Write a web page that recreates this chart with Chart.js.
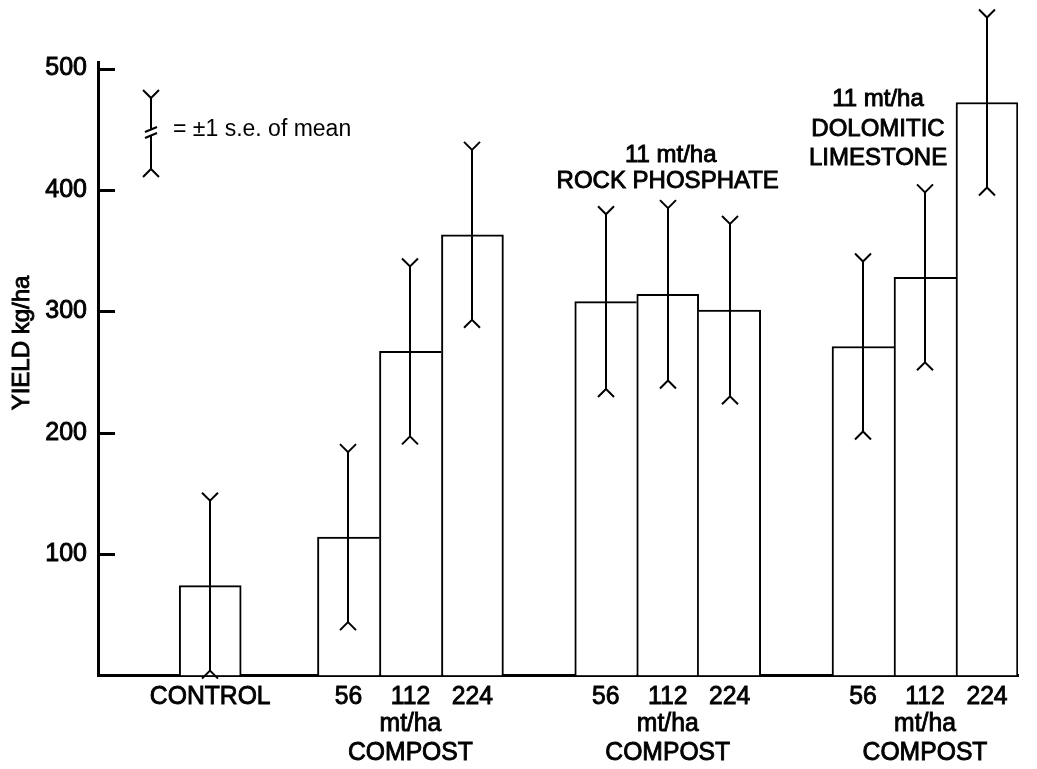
<!DOCTYPE html>
<html>
<head>
<meta charset="utf-8">
<title>Yield</title>
<script src="https://cdn.jsdelivr.net/npm/chart.js@4.4.0/dist/chart.umd.min.js"></script>
<style>
    html, body { margin: 0; padding: 0; background: #fff; }
    #wrap { width: 1037px; height: 769px; }
</style>
</head>
<body>
<div id="wrap"><canvas id="yieldChart"></canvas></div>
<script>
// values (kg/ha)
const controlYield = [74];
const compostYield = [114, 267, 363];
const rockPhosphateYield = [308, 314, 301];
const limestoneYield = [271, 328, 472];

// +-1 s.e. of mean
const controlSE = [70];
const compostSE = [70, 70, 70];
const rockPhosphateSE = [72, 71, 71];
const limestoneSE = [70, 70, 70];

const rateLabels = ['56', '112', '224'];
const yTicks = [100, 200, 300, 400, 500];

const FONT = '"Liberation Sans", Arial, Helvetica, sans-serif';

// groups in draw order, gap before each group in bar widths
const groups = [
    { yields: controlYield, se: controlSE, gap: 1.31 },
    { yields: compostYield, se: compostSE, gap: 1.23 },
    { yields: rockPhosphateYield, se: rockPhosphateSE, gap: 1.15 },
    { yields: limestoneYield, se: limestoneSE, gap: 1.15 }
];

const points = [];
const errors = [];
const edges = [];   // which bar draws a shared side: the taller one
let pos = 0;
groups.forEach(g => {
    pos += g.gap;
    g.yields.forEach((v, i) => {
        const prev = g.yields[i - 1];
        const next = g.yields[i + 1];
        points.push({ x: pos + 0.5, y: v });
        errors.push(g.se[i]);
        edges.push({
            left: prev === undefined || prev < v,
            right: next === undefined || next <= v
        });
        pos += 1;
    });
});
const xMax = pos;

// slightly heavier, narrower text, like the printed figure
function label(ctx, text, x, y, sx = 0.95) {
    ctx.save();
    ctx.translate(x, y);
    ctx.scale(sx, 1);
    ctx.strokeText(text, 0, 0);
    ctx.fillText(text, 0, 0);
    ctx.restore();
}

const errorBars = {
    id: 'errorBars',
    afterDatasetsDraw(chart) {
        const ctx = chart.ctx;
        const yScale = chart.scales.y;
        const meta = chart.getDatasetMeta(0);
        ctx.save();
        ctx.strokeStyle = '#000';
        ctx.lineWidth = 2;
        meta.data.forEach((bar, i) => {
            const x = Math.round(bar.x);
            const hi = yScale.getPixelForValue(points[i].y + errors[i]);
            const lo = yScale.getPixelForValue(points[i].y - errors[i]);
            ctx.beginPath();
            ctx.moveTo(x, hi);
            ctx.lineTo(x, lo);
            ctx.moveTo(x - 8, hi - 8);
            ctx.lineTo(x, hi);
            ctx.lineTo(x + 8, hi - 8);
            ctx.moveTo(x - 8, lo + 8);
            ctx.lineTo(x, lo);
            ctx.lineTo(x + 8, lo + 8);
            ctx.stroke();
        });
        ctx.restore();
    }
};

const decorations = {
    id: 'decorations',
    afterDraw(chart) {
        const ctx = chart.ctx;
        const area = chart.chartArea;
        const yScale = chart.scales.y;
        const meta = chart.getDatasetMeta(0);
        const cx = i => meta.data[i].x;

        ctx.save();
        ctx.strokeStyle = '#000';
        ctx.fillStyle = '#000';

        // inward tick marks
        ctx.lineWidth = 3;
        yTicks.forEach(t => {
            const y = Math.round(yScale.getPixelForValue(t)) + 0.5;
            ctx.beginPath();
            ctx.moveTo(area.left, y);
            ctx.lineTo(area.left + 17, y);
            ctx.stroke();
        });

        ctx.lineWidth = 0.9;
        ctx.textAlign = 'center';
        ctx.textBaseline = 'middle';

        // axis title
        ctx.font = '24px ' + FONT;
        ctx.save();
        ctx.translate(22, 343);
        ctx.rotate(-Math.PI / 2);
        label(ctx, 'YIELD kg/ha', 0, 0, 1);
        ctx.restore();

        // category labels
        ctx.font = '26px ' + FONT;
        label(ctx, 'CONTROL', cx(0), 697);
        for (let g = 0; g < 3; g++) {
            const first = 1 + g * 3;
            rateLabels.forEach((lab, i) => label(ctx, lab, cx(first + i), 697));
            label(ctx, 'mt/ha', cx(first + 1), 724);
            label(ctx, 'COMPOST', cx(first + 1), 753);
        }

        // group notes
        ctx.font = '24px ' + FONT;
        label(ctx, '11 mt/ha', cx(5) + 3, 155, 1);
        label(ctx, 'ROCK PHOSPHATE', cx(5), 181, 1);
        const dx = cx(7) + 15;
        label(ctx, '11 mt/ha', dx, 99, 1);
        label(ctx, 'DOLOMITIC', dx, 129, 1);
        label(ctx, 'LIMESTONE', dx, 158, 1);

        // key
        const kx = 151;
        ctx.lineWidth = 2;
        ctx.beginPath();
        ctx.moveTo(kx - 8, 90);
        ctx.lineTo(kx, 98);
        ctx.lineTo(kx + 8, 90);
        ctx.moveTo(kx, 98);
        ctx.lineTo(kx, 129);
        ctx.moveTo(kx, 136);
        ctx.lineTo(kx, 169);
        ctx.moveTo(kx - 8, 177);
        ctx.lineTo(kx, 169);
        ctx.lineTo(kx + 8, 177);
        ctx.moveTo(kx - 6, 132);
        ctx.lineTo(kx + 6, 127);
        ctx.moveTo(kx - 6, 138);
        ctx.lineTo(kx + 6, 133);
        ctx.stroke();
        ctx.textAlign = 'left';
        ctx.font = '23px ' + FONT;
        ctx.fillText('= \u00b11 s.e. of mean', 173, 130);
        ctx.restore();
    }
};

const chart = new Chart(document.getElementById('yieldChart'), {
    type: 'bar',
    data: {
        datasets: [{
            data: points,
            backgroundColor: '#fff',
            borderColor: '#000',
            borderSkipped: false,
            borderWidth: c => {
                const e = edges[c.dataIndex];
                return { top: 2, bottom: 0, left: e.left ? 2 : 0, right: e.right ? 2 : 0 };
            },
            barPercentage: 1,
            categoryPercentage: 1
        }]
    },
    options: {
        responsive: true,
        maintainAspectRatio: false,
        animation: false,
        layout: { padding: { top: 62, right: 19, left: 0, bottom: 0 } },
        plugins: {
            legend: { display: false },
            tooltip: { enabled: false }
        },
        scales: {
            x: {
                type: 'linear',
                offset: false,
                min: 0,
                max: xMax,
                afterBuildTicks: s => { s.ticks = points.map(p => ({ value: p.x })); },
                afterFit: s => { s.height = 93.5; },
                ticks: { display: false },
                grid: { display: false, drawTicks: false, offset: false },
                border: { color: '#000', width: 3 }
            },
            y: {
                min: 0,
                max: 505.4,
                afterBuildTicks: s => { s.ticks = yTicks.map(v => ({ value: v })); },
                afterFit: s => { s.width = 98; },
                ticks: {
                    color: '#000',
                    padding: 11,
                    font: { family: FONT, size: 25 },
                    textStrokeColor: '#000',
                    textStrokeWidth: 0.9
                },
                grid: { display: false, drawTicks: false },
                border: { color: '#000', width: 3 }
            }
        }
    },
    plugins: [errorBars, decorations]
});
</script>
</body>
</html>
